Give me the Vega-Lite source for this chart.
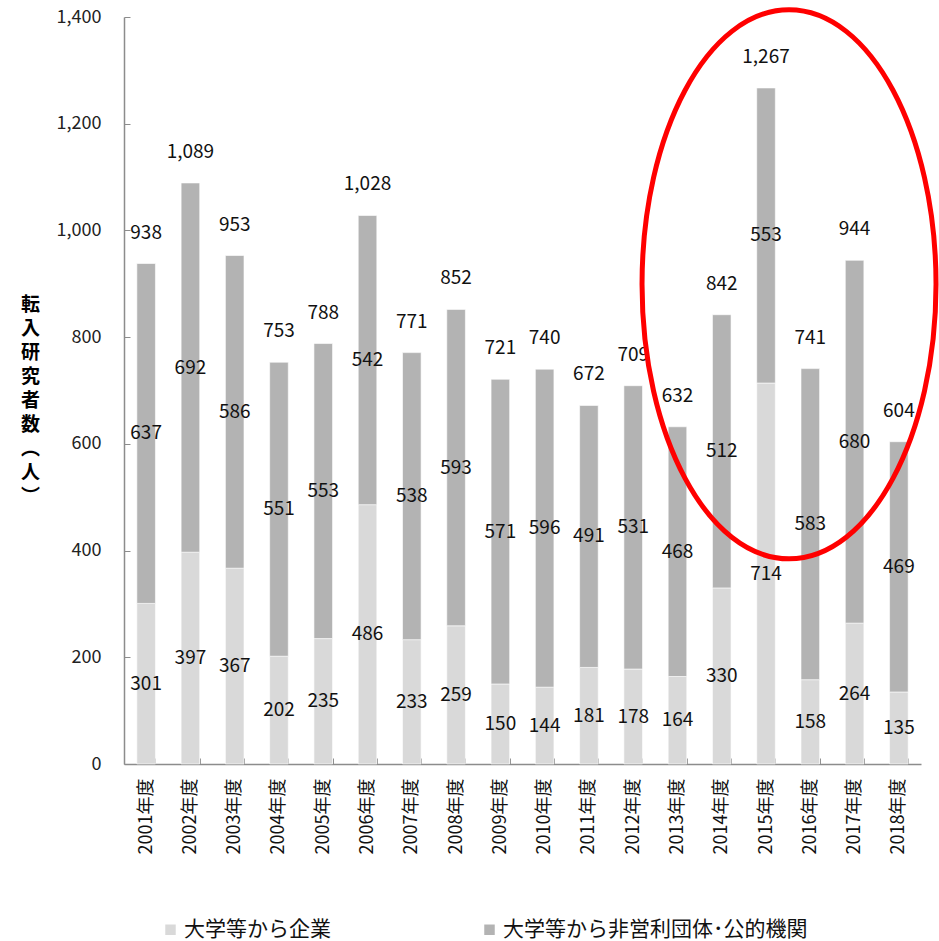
{
  "$schema": "https://vega.github.io/schema/vega-lite/v6.json",
  "autosize": {"type": "none"},
  "width": 797,
  "height": 747,
  "padding": {"left": 124, "top": 17, "right": 18, "bottom": 177},
  "background": "white",
  "config": {
    "font": "Noto Sans CJK JP",
    "view": {"stroke": null},
    "axis": {"labelFont": "Noto Sans CJK JP", "titleFont": "Noto Sans CJK JP"},
    "legend": {"labelFont": "Noto Sans CJK JP"}
  },
  "datasets": {
    "transfers": [
      {"year": "2001年度", "series": "大学等から企業", "value": 301},
      {"year": "2001年度", "series": "大学等から非営利団体･公的機関", "value": 637},
      {"year": "2002年度", "series": "大学等から企業", "value": 397},
      {"year": "2002年度", "series": "大学等から非営利団体･公的機関", "value": 692},
      {"year": "2003年度", "series": "大学等から企業", "value": 367},
      {"year": "2003年度", "series": "大学等から非営利団体･公的機関", "value": 586},
      {"year": "2004年度", "series": "大学等から企業", "value": 202},
      {"year": "2004年度", "series": "大学等から非営利団体･公的機関", "value": 551},
      {"year": "2005年度", "series": "大学等から企業", "value": 235},
      {"year": "2005年度", "series": "大学等から非営利団体･公的機関", "value": 553},
      {"year": "2006年度", "series": "大学等から企業", "value": 486},
      {"year": "2006年度", "series": "大学等から非営利団体･公的機関", "value": 542},
      {"year": "2007年度", "series": "大学等から企業", "value": 233},
      {"year": "2007年度", "series": "大学等から非営利団体･公的機関", "value": 538},
      {"year": "2008年度", "series": "大学等から企業", "value": 259},
      {"year": "2008年度", "series": "大学等から非営利団体･公的機関", "value": 593},
      {"year": "2009年度", "series": "大学等から企業", "value": 150},
      {"year": "2009年度", "series": "大学等から非営利団体･公的機関", "value": 571},
      {"year": "2010年度", "series": "大学等から企業", "value": 144},
      {"year": "2010年度", "series": "大学等から非営利団体･公的機関", "value": 596},
      {"year": "2011年度", "series": "大学等から企業", "value": 181},
      {"year": "2011年度", "series": "大学等から非営利団体･公的機関", "value": 491},
      {"year": "2012年度", "series": "大学等から企業", "value": 178},
      {"year": "2012年度", "series": "大学等から非営利団体･公的機関", "value": 531},
      {"year": "2013年度", "series": "大学等から企業", "value": 164},
      {"year": "2013年度", "series": "大学等から非営利団体･公的機関", "value": 468},
      {"year": "2014年度", "series": "大学等から企業", "value": 330},
      {"year": "2014年度", "series": "大学等から非営利団体･公的機関", "value": 512},
      {"year": "2015年度", "series": "大学等から企業", "value": 714},
      {"year": "2015年度", "series": "大学等から非営利団体･公的機関", "value": 553},
      {"year": "2016年度", "series": "大学等から企業", "value": 158},
      {"year": "2016年度", "series": "大学等から非営利団体･公的機関", "value": 583},
      {"year": "2017年度", "series": "大学等から企業", "value": 264},
      {"year": "2017年度", "series": "大学等から非営利団体･公的機関", "value": 680},
      {"year": "2018年度", "series": "大学等から企業", "value": 135},
      {"year": "2018年度", "series": "大学等から非営利団体･公的機関", "value": 469}
    ]
  },
  "data": {"name": "transfers"},
  "encoding": {
    "x": {
      "field": "year",
      "type": "nominal",
      "sort": null,
      "scale": {"paddingInner": 0.58, "paddingOuter": 0.29},
      "axis": {
        "title": null,
        "tickBand": "extent",
        "domainColor": "#8c8c8c",
        "domainWidth": 1.5,
        "tickColor": "#8c8c8c",
        "tickWidth": 1,
        "tickSize": -6,
        "labelAngle": -90,
        "labelAlign": "right",
        "labelBaseline": "middle",
        "labelFontSize": 18,
        "labelColor": "#111111",
        "labelPadding": 20
      }
    }
  },
  "layer": [
    {
      "transform": [
        {"stack": "value", "groupby": ["year"], "sort": [{"field": "series", "order": "ascending"}], "as": ["v0", "v1"]}
      ],
      "mark": {"type": "bar", "stroke": "white", "strokeWidth": 0.6},
      "encoding": {
        "y": {
          "field": "v1",
          "type": "quantitative",
          "scale": {"domain": [0, 1400], "nice": false},
          "axis": {
            "values": [0, 200, 400, 600, 800, 1000, 1200, 1400],
            "format": ",d",
            "grid": false,
            "domainColor": "#8c8c8c",
            "domainWidth": 1.5,
            "tickColor": "#8c8c8c",
            "tickSize": -6,
            "labelFontSize": 18,
            "labelColor": "#222222",
            "labelPadding": 29,
            "title": ["転", "入", "研", "究", "者", "数", "︵", "人", "︶"],
            "titleAngle": 0,
            "titleFontSize": 19,
            "titleFontWeight": "bold",
            "titleColor": "#000000",
            "titleLineHeight": 24,
            "titleAlign": "center",
            "titleBaseline": "middle",
            "titleX": -94,
            "titleY": 287
          }
        },
        "y2": {"field": "v0"},
        "color": {
          "field": "series",
          "type": "nominal",
          "scale": {
            "domain": ["大学等から企業", "大学等から非営利団体･公的機関"],
            "range": ["#d9d9d9", "#b3b3b3"]
          },
          "legend": {
            "title": null,
            "orient": "none",
            "direction": "horizontal",
            "legendX": 36,
            "legendY": 902,
            "symbolType": "square",
            "symbolSize": 110,
            "symbolStrokeWidth": 0,
            "labelFontSize": 21,
            "labelColor": "#111111",
            "labelOffset": 3,
            "columnPadding": 148,
            "labelLimit": 400
          }
        }
      }
    },
    {
      "transform": [
        {"stack": "value", "groupby": ["year"], "sort": [{"field": "series", "order": "ascending"}], "as": ["v0", "v1"]},
        {"calculate": "(datum.v0 + datum.v1) / 2", "as": "mid"}
      ],
      "mark": {"type": "text", "fontSize": 19, "color": "#111111", "baseline": "middle", "align": "center"},
      "encoding": {
        "y": {"field": "mid", "type": "quantitative"},
        "text": {"field": "value", "type": "quantitative", "format": ",d"}
      }
    },
    {
      "transform": [
        {"aggregate": [{"op": "sum", "field": "value", "as": "total"}], "groupby": ["year"]}
      ],
      "mark": {"type": "text", "fontSize": 19, "color": "#111111", "baseline": "middle", "align": "center", "dy": -31},
      "encoding": {
        "y": {"field": "total", "type": "quantitative"},
        "text": {"field": "total", "type": "quantitative", "format": ",d"}
      }
    },
    {
      "data": {"values": [{}]},
      "mark": {
        "type": "point",
        "filled": false,
        "stroke": "#ff0000",
        "strokeWidth": 5,
        "opacity": 1,
        "xOffset": 23,
        "shape": "M0,-1C0.2957,-1,0.5355,-0.5523,0.5355,0C0.5355,0.5523,0.2957,1,0,1C-0.2957,1,-0.5355,0.5523,-0.5355,0C-0.5355,-0.5523,-0.2957,-1,0,-1Z",
        "size": 301401
      },
      "encoding": {
        "x": {"datum": "2015年度"},
        "y": {"datum": 899}
      }
    }
  ]
}
